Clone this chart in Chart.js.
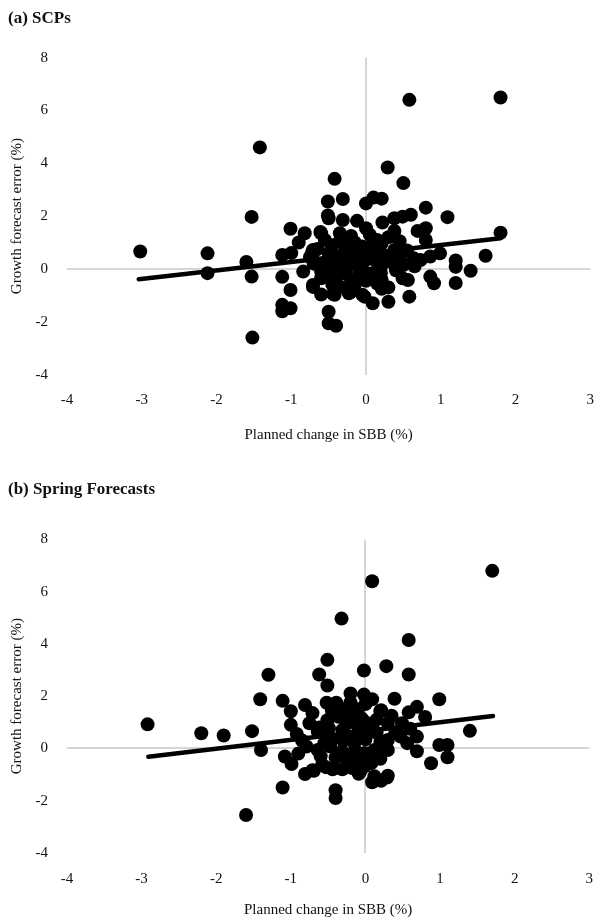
<!DOCTYPE html>
<html>
<head>
<meta charset="utf-8">
<script src="https://cdn.jsdelivr.net/npm/chart.js@4.4.0/dist/chart.umd.min.js"></script>
<style>
    body { margin: 0; background: #fff; }
    .box { position: absolute; left: 0; width: 610px; height: 462px; }
</style>
</head>
<body>
<div class="box" style="top:0"><canvas id="scp-chart" width="610" height="462"></canvas></div>
<div class="box" style="top:462px"><canvas id="spring-chart" width="610" height="462"></canvas></div>
<script>
// (a) SCPs: planned change in SBB vs growth forecast error
const scpX = [
    -3.02, -2.12, -2.12, -1.53, -1.42, -1.6, -1.53, -1.52, -1.01, -0.82,
    -0.9, -1.12, -1.0, -0.72, -0.6, -0.51, -0.5, -0.42, -1.12, -0.84,
    0.58, 1.8, 1.8, 1.6, 1.4, 1.2, 1.2, 1.2, 1.09, 0.8,
    0.5, 0.29, -0.31, 0.0, 0.1, 0.21, 0.8, 0.6, 0.49, 0.38,
    0.22, 0.69, -0.61, -0.51, -0.31, -0.12, 0.0, 0.38, 0.99, 0.91,
    0.58, 0.3, 0.09, -0.02, 0.56, 0.49, 0.86, 0.3, 0.21, 0.08,
    0.6, 0.73, 0.86, 0.8, 0.64, 0.38, 0.21, 0.04, 0.12, 0.43,
    0.21, -0.71, -0.71, -1.01, -1.12, -1.01, -1.12, -0.71, -0.6, -0.5,
    -0.5, -0.4, -0.42, -0.23, -0.05, -0.71, 0.21, -0.21, -0.44,
    -0.55, -0.45, -0.35, -0.25, -0.15, -0.05, -0.5, -0.4, -0.3, -0.2,
    -0.1, 0.0, -0.55, -0.45, -0.35, -0.25, -0.15, -0.05, -0.5, -0.4,
    -0.3, -0.2, -0.1, 0.0, -0.45, -0.3, -0.15, -0.6, 0.1, 0.15,
    0.25, 0.35, 0.45, 0.1, 0.2, 0.4, 0.5, 0.3, 0.15, 0.45,
    0.05, -0.65, -0.7, -0.75, -0.6, 0.55, 0.65, 0.15, -0.35, -0.2
];
const scpY = [
    0.66, 0.59, -0.16, 1.97, 4.6, 0.26, -0.29, -2.6, 1.52, 1.35,
    1.0, 0.53, 0.6, 0.62, 1.35, 2.55, 1.92, 3.41, -0.3, -0.1,
    6.4, 6.49, 1.37, 0.5, -0.07, 0.32, 0.08, -0.53, 1.96, 2.32,
    3.25, 3.84, 2.65, 2.48, 2.7, 2.66, 1.54, 2.05, 1.98, 1.92,
    1.76, 1.44, 1.4, 2.02, 1.85, 1.82, 1.54, 1.44, 0.59, -0.54,
    -1.05, -1.24, -1.3, -1.05, -0.42, -0.35, -0.29, -0.7, -0.42, -0.16,
    0.21, 0.34, 0.47, 1.1, 0.4, 0.72, 0.97, 0.84, 0.34, 0.09,
    0.15, 0.72, 0.59, -0.8, -1.36, -1.49, -1.6, -0.61, -0.97, -1.62,
    -2.06, -2.15, -0.98, -0.92, -0.98, -0.68, -0.75, -0.88, -0.95,
    1.1, 0.9, 1.05, 0.8, 1.0, 0.85, 0.6, 0.45, 0.6, 0.4,
    0.55, 0.35, 0.25, 0.1, 0.2, 0.05, 0.2, 0.0, -0.2, -0.35,
    -0.15, -0.4, -0.25, -0.45, -0.6, -0.7, -0.6, -0.35, 0.6, 0.3,
    0.5, 0.25, 0.45, -0.3, -0.15, -0.05, 0.15, 1.2, 1.1, 1.05,
    1.3, 0.75, 0.2, 0.45, -0.1, 0.7, 0.1, -0.55, 1.35, 1.25
];
const scpTrendX = [-3.04, 1.8];
const scpTrendY = [-0.39, 1.16];

// (b) Spring Forecasts
const springX = [
    -2.92, -2.2, -1.9, -1.52, -1.41, -1.3, -1.11, -1.0, -1.0, -0.92,
    -0.81, -0.71, -0.62, -0.51, -0.51, -0.52, -0.62, -1.4, 0.09, 1.7,
    -0.32, 0.58, -0.02, 0.28, 0.58, 0.99, 0.39, -0.2, -0.02, 0.09,
    -0.39, -0.2, -0.1, 0.2, 0.58, 0.69, 0.8, 1.4, 0.99, 1.1,
    -0.51, -0.31, -0.01, 0.3, 0.49, 0.69, 1.1, 0.88, 0.69, 0.12,
    0.3, -0.01, 0.21, 0.3, 0.47, 0.56, 0.3, 0.12, 0.08, -1.08,
    -0.99, -0.81, -0.71, -1.11, -0.4, -0.4, -0.58, -0.44, -0.31, -0.18,
    -0.07, -0.64, -0.49, -0.31, -0.18, -0.07, -0.79, -0.64, -0.47, -0.31,
    -0.14, -0.01, -0.75, -0.36, -0.18, -0.05, 0.09, 0.21, 0.29, -1.6,
    -0.09, -0.69, -0.53,
    -0.45, -0.3, -0.15, 0.0, 0.15, 0.2, -0.55, -0.4, -0.25, -0.1,
    0.05, 0.2, -0.6, -0.25, -0.1, 0.05, 0.15, 0.4, -0.45, -0.3,
    0.0, -0.85, -0.9, 0.35, 0.6
];
const springY = [
    0.92, 0.58, 0.49, 0.66, 1.88, 2.82, 1.82, 1.42, 0.9, 0.55,
    1.66, 1.35, 2.83, 3.39, 2.41, 1.75, 0.8, -0.06, 6.4, 6.8,
    4.97, 4.15, 2.98, 3.15, 2.83, 1.88, 1.9, 2.1, 2.06, 1.88,
    1.75, 1.76, 1.5, 1.42, 1.38, 1.59, 1.2, 0.67, 0.13, 0.13,
    1.08, 1.21, 1.02, 0.96, 0.96, 0.45, -0.34, -0.57, -0.11, -1.07,
    -1.05, -0.69, 1.46, 0.32, 0.45, 0.2, -0.06, -0.06, -0.56, -0.31,
    -0.6, -0.98, -0.84, -1.5, -1.6, -1.9, -0.63, -0.8, -0.8, -0.75,
    -0.9, 0.64, 0.77, 0.7, 0.45, 0.58, 0.07, -0.06, 0.07, -0.12,
    -0.06, -0.18, 0.96, 1.21, 1.27, 1.15, -1.3, -1.24, -1.12, -2.55,
    -0.97, -0.86, -0.72,
    0.35, 0.3, 0.2, 0.35, 0.6, 0.25, 0.2, -0.35, -0.4, -0.45,
    -0.3, -0.4, -0.3, 0.95, 0.85, 0.8, 1.1, 0.6, 1.45, 1.5,
    1.7, 0.3, -0.2, 1.25, 0.75
];
const springTrendX = [-2.91, 1.71];
const springTrendY = [-0.32, 1.24];

const xTicks = [-4, -3, -2, -1, 0, 1, 2, 3];
const yTicks = [-4, -2, 0, 2, 4, 6, 8];

const serif = `"Liberation Serif", "Times New Roman", serif`;
const textColor = `#111`;

function toPoints(xs, ys) {
    return xs.map((x, i) => ({ x: x, y: ys[i] }));
}

function drawChart(id, title, xs, ys, trendX, trendY, geo) {
    const ctx = document.querySelector(id).getContext('2d');
    return new Chart(ctx, {
        type: 'scatter',
        data: {
            datasets: [
                {
                    data: toPoints(trendX, trendY),
                    showLine: true,
                    borderColor: '#000',
                    borderWidth: 4.5,
                    borderCapStyle: 'round',
                    pointRadius: 0,
                    order: 0
                },
                {
                    data: toPoints(xs, ys),
                    backgroundColor: '#000',
                    borderWidth: 0,
                    pointRadius: 7,
                    pointHoverRadius: 7,
                    order: 1
                }
            ]
        },
        options: {
            responsive: false,
            animation: false,
            events: [],
            layout: { padding: { left: 8, right: 6, top: 0, bottom: 0 } },
            plugins: {
                legend: { display: false },
                tooltip: { enabled: false },
                title: {
                    display: true,
                    text: title,
                    align: 'start',
                    color: textColor,
                    font: { family: serif, size: 17, weight: 'bold' },
                    padding: { top: geo.titleTop, bottom: geo.titleBottom }
                }
            },
            scales: {
                x: {
                    type: 'linear',
                    min: -4,
                    max: 3,
                    afterBuildTicks: scale => { scale.ticks = xTicks.map(v => ({ value: v })); },
                    afterFit: scale => { scale.height = geo.xHeight; },
                    ticks: {
                        color: textColor,
                        font: { family: serif, size: 15 },
                        padding: geo.xTickPad
                    },
                    grid: {
                        drawTicks: false,
                        lineWidth: 2,
                        color: c => (c.tick && c.tick.value === 0 ? '#d6d6d6' : 'rgba(0,0,0,0)')
                    },
                    border: { display: false },
                    title: {
                        display: true,
                        text: 'Planned change in SBB (%)',
                        color: textColor,
                        font: { family: serif, size: 15 },
                        padding: { top: 0, bottom: geo.xTitlePad }
                    }
                },
                y: {
                    type: 'linear',
                    min: -4,
                    max: 8,
                    afterBuildTicks: scale => { scale.ticks = yTicks.map(v => ({ value: v })); },
                    afterFit: scale => { scale.width = 59; },
                    ticks: {
                        color: textColor,
                        font: { family: serif, size: 15 },
                        padding: 19
                    },
                    grid: {
                        drawTicks: false,
                        lineWidth: 2,
                        color: c => (c.tick && c.tick.value === 0 ? '#d6d6d6' : 'rgba(0,0,0,0)')
                    },
                    border: { display: false },
                    title: {
                        display: true,
                        text: 'Growth forecast error (%)',
                        color: textColor,
                        font: { family: serif, size: 15 },
                        padding: { top: 0, bottom: 0 }
                    }
                }
            }
        }
    });
}

drawChart('#scp-chart', '(a) SCPs', scpX, scpY, scpTrendX, scpTrendY,
    { titleTop: 8, titleBottom: 29.2, xHeight: 87.4, xTickPad: 16, xTitlePad: 18 });
drawChart('#spring-chart', '(b) Spring Forecasts', springX, springY, springTrendX, springTrendY,
    { titleTop: 17.8, titleBottom: 39.3, xHeight: 71.2, xTickPad: 17, xTitlePad: 5 });
</script>
</body>
</html>
